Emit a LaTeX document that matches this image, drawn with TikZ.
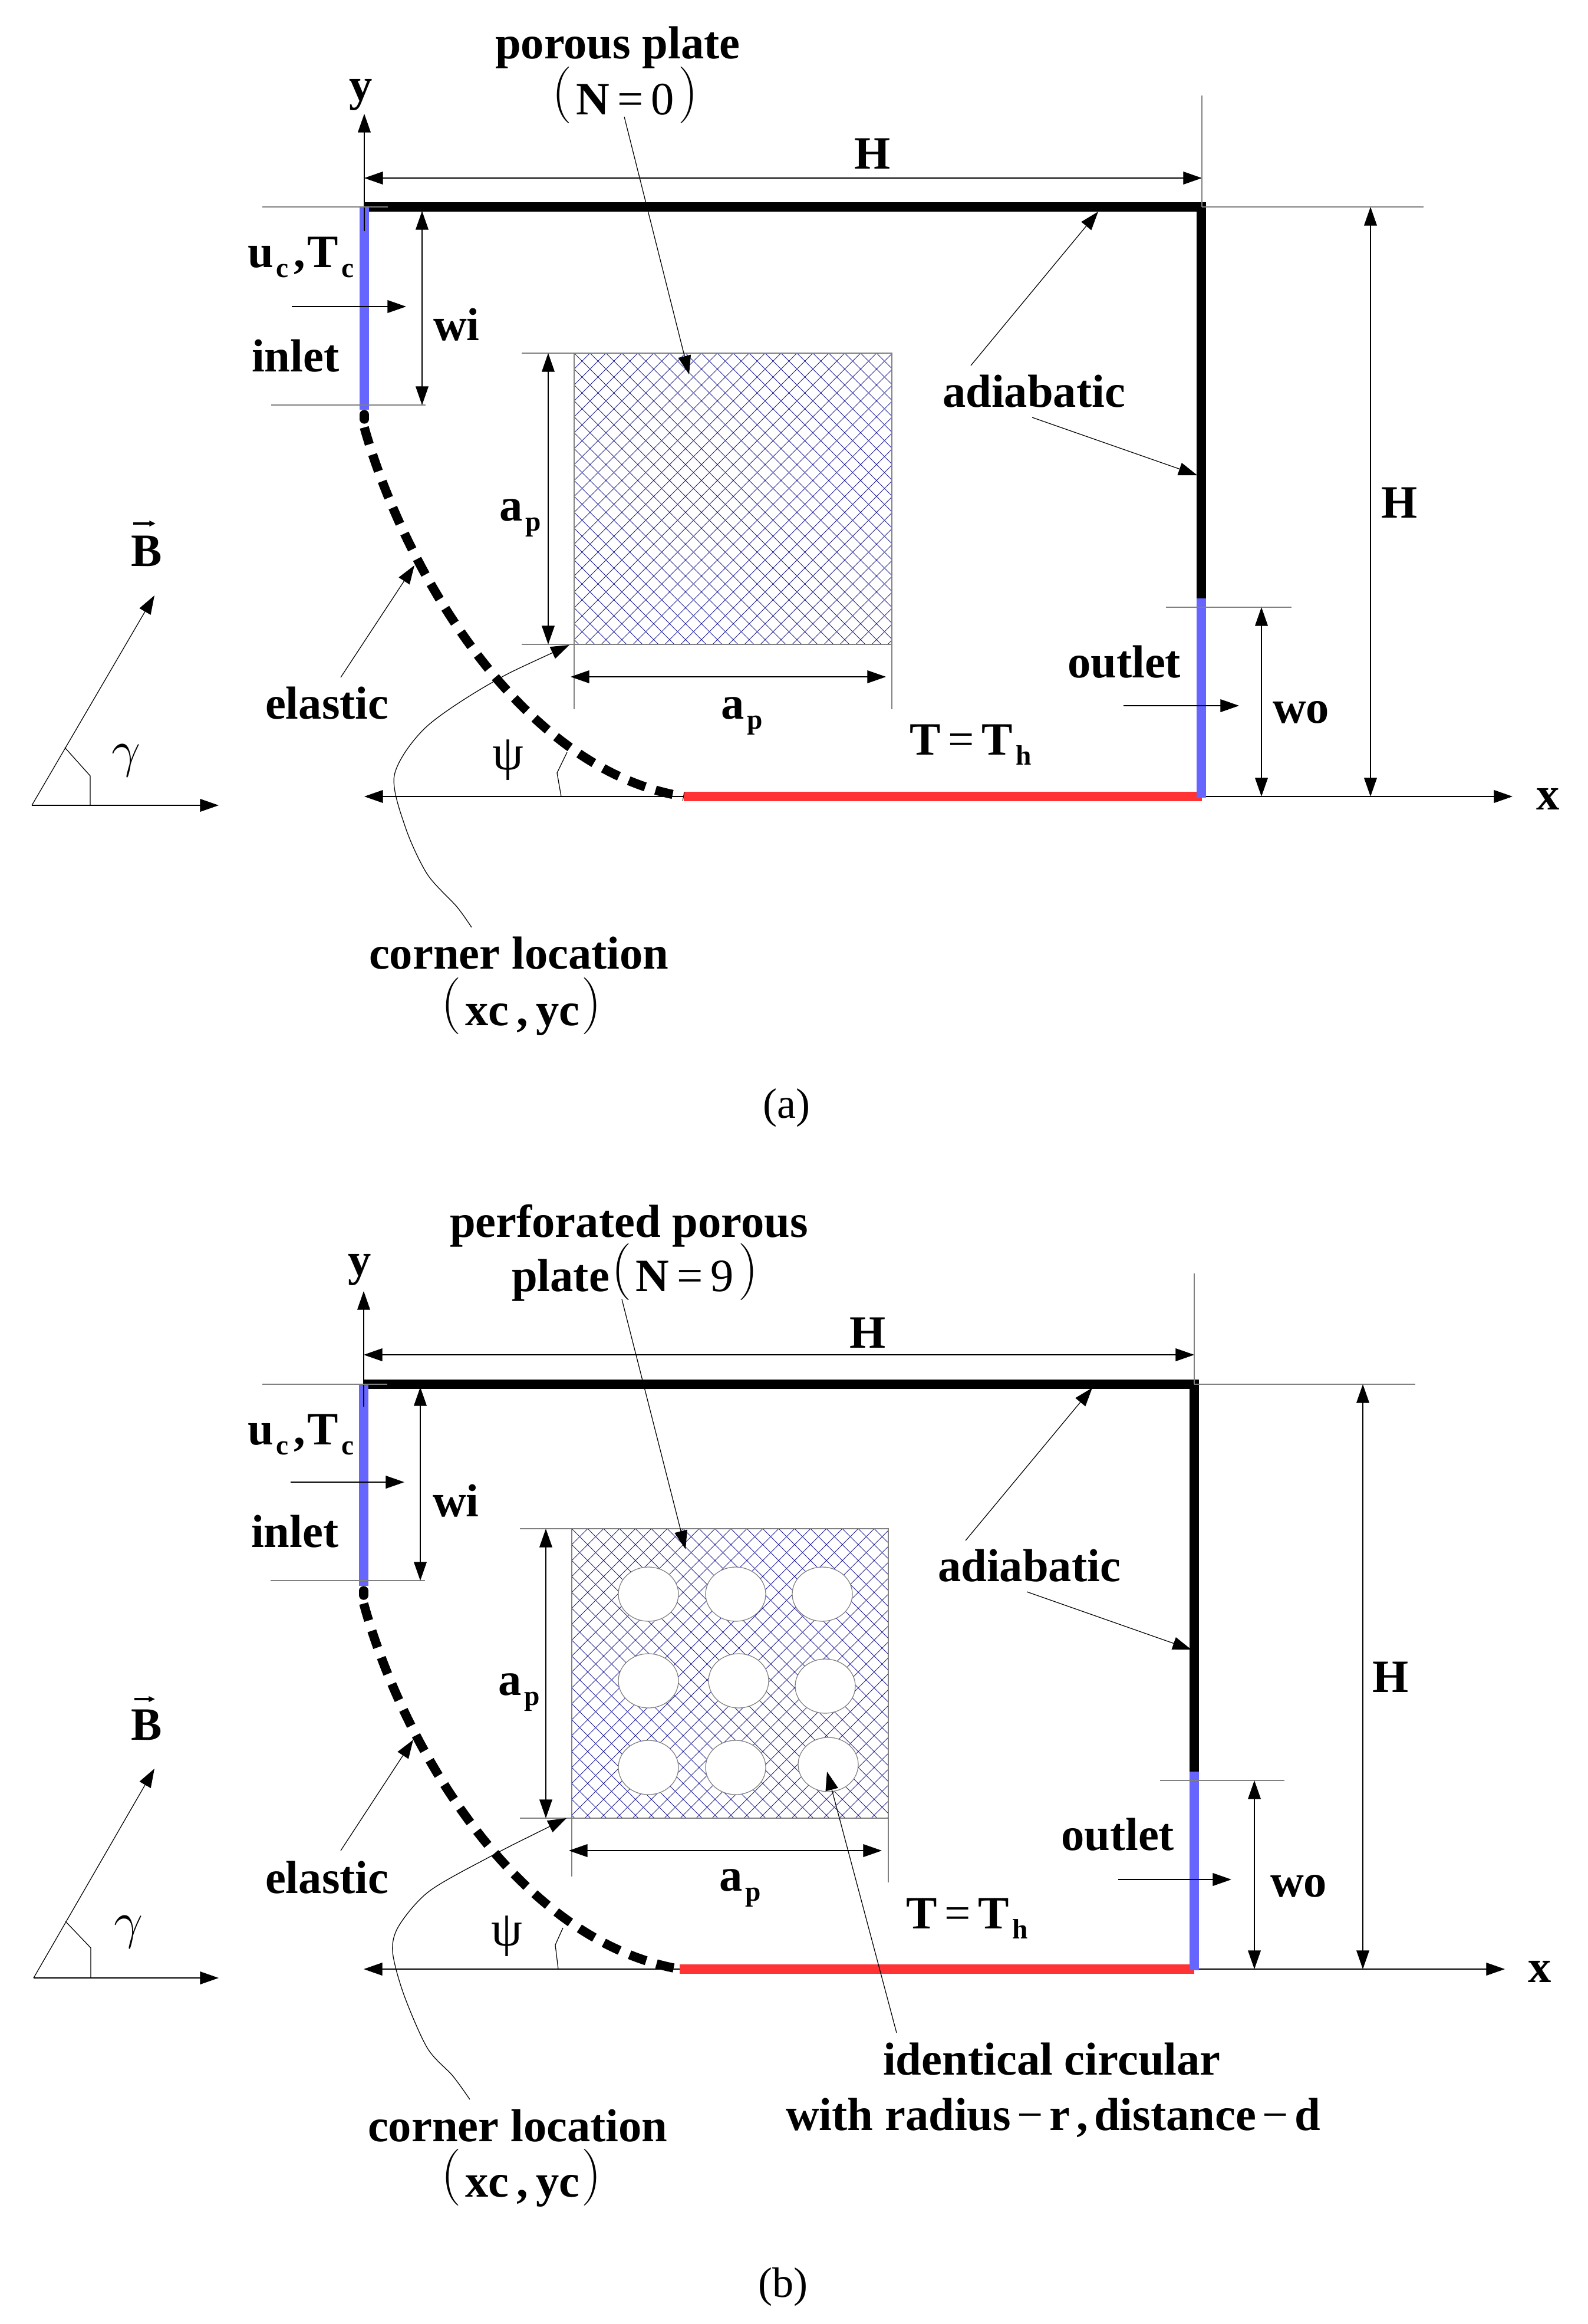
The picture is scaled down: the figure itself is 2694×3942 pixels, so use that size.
\documentclass[tikz,border=0pt]{standalone}
\usepackage{fontspec}
\usepackage{graphicx}
\setmainfont{Liberation Serif}
\usetikzlibrary{arrows.meta}
\definecolor{inletblue}{HTML}{6666FF}
\definecolor{hotred}{HTML}{FF3333}
\definecolor{meshblue}{HTML}{1F1F99}
\tikzset{
    lbl/.style={anchor=base west, inner sep=0pt, outer sep=0pt, font=\fontsize{22.35}{26}\selectfont\bfseries},
    greek/.style={inner sep=0pt, outer sep=0pt, font=\fontsize{24}{26}\selectfont},
    caption/.style={anchor=base west, inner sep=0pt, outer sep=0pt, font=\fontsize{20.5}{24}\selectfont},
    thin line/.style={line width=0.35pt},
    ext line/.style={line width=0.35pt, gray},
    wall/.style={line width=4.4pt},
    elastic wall/.style={line width=4.4pt, dash pattern=on 8.5pt off 5.2pt},
    mesh/.style={line width=0.27pt, meshblue},
    hole/.style={line width=0.35pt, gray, fill=white},
}
\newcommand{\idx}[1]{\raisebox{-5pt}{\hspace{1.5pt}\fontsize{13.5}{14}\selectfont #1}}
\newcommand{\lpr}{\smash{\raisebox{2.4pt}{\scalebox{1.32}{\mdseries$\bigg($}}}}
\newcommand{\rpr}{\smash{\raisebox{2.4pt}{\scalebox{1.32}{\mdseries$\bigg)$}}}}
\newcommand{\rmn}[1]{{\mdseries #1}}
\newcommand{\hatchplate}[4]{%
    \begin{scope}
        \clip (#1,#2) rectangle (#3,#4);
        \foreach \k in {0,27,...,1107} {
            \draw[mesh] ({#1+\k-540},#2) -- ({#1+\k},{#2+540});
            \draw[mesh] ({#1+\k},#2) -- ({#1+\k-540},{#2+540});
        }
    \end{scope}
}
\begin{document}
\begin{tikzpicture}[x=0.01cm, y=-0.01cm, >={Triangle[length=9pt,width=6.2pt]}]
    \useasboundingbox (0,0) rectangle (2694,3942);
    % panel a
    \hatchplate{974}{599}{1513}{1093}
    \draw[ext line] (974,599) rectangle (1513,1093);
    \draw[ext line] (885,599) -- (974,599);
    \draw[ext line] (885,1093) -- (974,1093);
    \draw[ext line] (974,1093) -- (974,1203);
    \draw[ext line] (1513,1093) -- (1513,1203);
    \draw[<->, thin line] (930,599) -- (930,1093);
    \draw[<->, thin line] (968,1148) -- (1503,1148);
    \draw[<->, thin line] (2566,1351) -- (618,1351);
    \draw[wall, hotred] (1160,1351) -- (2039,1351);
    \draw[wall] (618,351) -- (2038,351) -- (2038,1015);
    \draw[wall, inletblue] (618,351) -- (618,695);
    \draw[wall, inletblue] (2038,1015) -- (2038,1353);
    \draw[wall, line cap=round] (618,703) -- (618,711);
    \draw[<-, thin line] plot[smooth] coordinates {(966,1094) (829,1161) (721,1235) (669,1315) (688,1404) (725,1483) (775,1538) (800,1573)};
    \draw[elastic wall] (618,725) .. controls (681,950) and (875,1305) .. (1160,1351);
    \draw[->, thin line] (618,392) -- (618,193);
    \draw[<->, thin line] (618,302) -- (2039,302);
    \draw[ext line] (2039,162) -- (2039,351);
    \draw[ext line] (445,351) -- (658,351);
    \draw[ext line] (2039,351) -- (2415,351);
    \draw[ext line] (460,687) -- (722,687);
    \draw[ext line] (1978,1030) -- (2191,1030);
    \draw[<->, thin line] (716,358) -- (716,687);
    \draw[<->, thin line] (2325,351) -- (2325,1351);
    \draw[<->, thin line] (2140,1030) -- (2140,1351);
    \draw[->, thin line] (495,520) -- (689,520);
    \draw[->, thin line] (1906,1197) -- (2102,1197);
    \draw[->, thin line] (1059,198) -- (1169,635);
    \draw[->, thin line] (1647,620) -- (1863,359);
    \draw[->, thin line] (1751,708) -- (2031,806);
    \draw[->, thin line] (578,1149) -- (703,959);
    \draw[thin line] (962,1276) -- (945,1311) -- (952,1351);
    \draw[->, thin line] (54,1366) -- (262,1010);
    \draw[->, thin line] (54,1366) -- (371,1366);
    \draw[thin line] (110,1268) -- (153,1316) -- (153,1366);
    \draw[-{Triangle[length=3pt,width=2.6pt]}, line width=0.9pt] (226,888) -- (264,888);
    \node[lbl] (plateA) at (840,99) {porous plate};
    \node[lbl] (plateAn) at (936,194) {\lpr\hspace{2pt}N\,\rmn{=\,0}\hspace{2pt}\rpr};
    \node[lbl] (yA) at (592,170) {y};
    \node[lbl] (xA) at (2606,1373) {x};
    \node[lbl] (hTopA) at (1449,286) {H};
    \node[lbl] (hSideA) at (2343,878) {H};
    \node[lbl] (ucA) at (420,453) {u\idx{c}\hspace{2.5pt},\hspace{1pt}T\idx{c}};
    \node[lbl] (inletA) at (427,630) {inlet};
    \node[lbl] (wiA) at (735,577) {wi};
    \node[lbl] (apVA) at (847,883) {a\idx{p}};
    \node[lbl] (apHA) at (1223,1219) {a\idx{p}};
    \node[lbl] (bA) at (222,960) {B};
    \node[lbl] (adiaA) at (1599,690) {adiabatic};
    \node[lbl] (outA) at (1811,1149) {outlet};
    \node[lbl] (woA) at (2159,1226) {wo};
    \node[lbl] (thA) at (1543,1280) {T\,\rmn{=}\,T\idx{h}};
    \node[lbl] (elasticA) at (450,1219) {elastic};
    \node[lbl] (cornerA) at (626,1643) {corner location};
    \node[lbl] (xycA) at (748,1739) {\lpr\hspace{2pt}xc\,,\,yc\hspace{1pt}\rpr};
    \node[greek] (gammaA) at (214,1290) {$\gamma$};
    \node[greek] (psiA) at (862,1289) {ψ};
    \node[caption] (capA) at (1294,1896) {(a)};
    % panel b
    \hatchplate{970}{2593}{1507}{3084}
    \foreach \cx/\cy in {1100/2704, 1248/2704, 1395/2704, 1100/2851, 1253/2851, 1400/2860, 1100/2998, 1248/2998, 1405/2993} {
        \draw[hole] (\cx,\cy) ellipse (51 and 46);
    }
    \draw[ext line] (970,2593) rectangle (1507,3084);
    \draw[ext line] (882,2593) -- (970,2593);
    \draw[ext line] (882,3084) -- (970,3084);
    \draw[ext line] (970,3084) -- (970,3183);
    \draw[ext line] (1507,3084) -- (1507,3193);
    \draw[<->, thin line] (926,2593) -- (926,3084);
    \draw[<->, thin line] (965,3139) -- (1496,3139);
    \draw[<->, thin line] (2553,3340) -- (617,3340);
    \draw[wall, hotred] (1153,3340) -- (2026,3340);
    \draw[wall] (617,2348) -- (2026,2348) -- (2026,3005);
    \draw[wall, inletblue] (617,2348) -- (617,2690);
    \draw[wall, inletblue] (2026,3005) -- (2026,3342);
    \draw[wall, line cap=round] (617,2698) -- (617,2706);
    \draw[<-, thin line] plot[smooth] coordinates {(961,3084) (830,3150) (728,3208) (677,3266) (666,3310) (685,3383) (725,3474) (768,3521) (797,3561)};
    \draw[elastic wall] (617,2720) .. controls (680,2950) and (870,3290) .. (1153,3340);
    \draw[->, thin line] (617,2386) -- (617,2190);
    \draw[<->, thin line] (617,2298) -- (2026,2298);
    \draw[ext line] (2026,2160) -- (2026,2348);
    \draw[ext line] (445,2348) -- (657,2348);
    \draw[ext line] (2026,2348) -- (2401,2348);
    \draw[ext line] (459,2681) -- (721,2681);
    \draw[ext line] (1968,3020) -- (2179,3020);
    \draw[<->, thin line] (713,2353) -- (713,2681);
    \draw[<->, thin line] (2312,2348) -- (2312,3340);
    \draw[<->, thin line] (2128,3020) -- (2128,3340);
    \draw[->, thin line] (493,2514) -- (686,2514);
    \draw[->, thin line] (1897,3188) -- (2089,3188);
    \draw[->, thin line] (1055,2204) -- (1163,2628);
    \draw[->, thin line] (1638,2613) -- (1853,2354);
    \draw[->, thin line] (1742,2700) -- (2021,2798);
    \draw[->, thin line] (578,3139) -- (701,2951);
    \draw[->, thin line] (1521,3448) -- (1403,3005);
    \draw[thin line] (955,3270) -- (942,3299) -- (947,3340);
    \draw[->, thin line] (57,3355) -- (262,3000);
    \draw[->, thin line] (57,3355) -- (371,3355);
    \draw[thin line] (111,3259) -- (154,3304) -- (154,3355);
    \draw[-{Triangle[length=3pt,width=2.6pt]}, line width=0.9pt] (228,2882) -- (263,2882);
    \node[lbl] (plateB) at (763,2098) {perforated porous};
    \node[lbl] (plateBn) at (868,2190) {plate\hspace{1pt}\lpr\hspace{2pt}N\,\rmn{=\,9}\hspace{2pt}\rpr};
    \node[lbl] (yB) at (590,2163) {y};
    \node[lbl] (xB) at (2592,3362) {x};
    \node[lbl] (hTopB) at (1441,2286) {H};
    \node[lbl] (hSideB) at (2328,2870) {H};
    \node[lbl] (ucB) at (420,2450) {u\idx{c}\hspace{2.5pt},\hspace{1pt}T\idx{c}};
    \node[lbl] (inletB) at (426,2624) {inlet};
    \node[lbl] (wiB) at (734,2572) {wi};
    \node[lbl] (apVB) at (845,2875) {a\idx{p}};
    \node[lbl] (apHB) at (1220,3207) {a\idx{p}};
    \node[lbl] (bB) at (222,2951) {B};
    \node[lbl] (adiaB) at (1591,2682) {adiabatic};
    \node[lbl] (outB) at (1800,3138) {outlet};
    \node[lbl] (woB) at (2155,3217) {wo};
    \node[lbl] (thB) at (1537,3271) {T\,\rmn{=}\,T\idx{h}};
    \node[lbl] (elasticB) at (450,3211) {elastic};
    \node[lbl] (cornerB) at (624,3632) {corner location};
    \node[lbl] (xycB) at (748,3726) {\lpr\hspace{2pt}xc\,,\,yc\hspace{1pt}\rpr};
    \node[lbl] (holesB) at (1498,3519) {identical circular};
    \node[lbl] (holesBb) at (1333,3613) {with radius\hspace{3pt}\rmn{−}\hspace{3pt}r\hspace{3pt},\hspace{3pt}distance\hspace{3pt}\rmn{−}\hspace{3pt}d};
    \node[greek] (gammaB) at (218,3277) {$\gamma$};
    \node[greek] (psiB) at (860,3284) {ψ};
    \node[caption] (capB) at (1286,3896) {(b)};
\end{tikzpicture}
\end{document}
